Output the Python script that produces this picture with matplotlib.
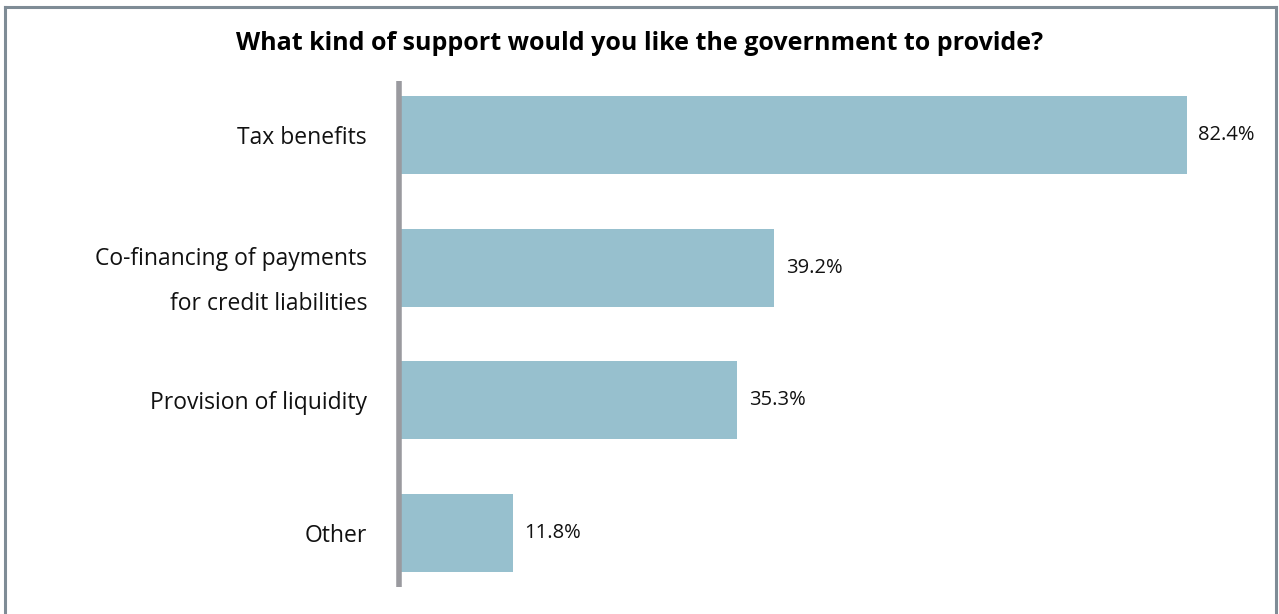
import matplotlib.pyplot as plt

plt.rcParams['font.family'] = ['Open Sans', 'DejaVu Sans']

# data
categories = ['Tax benefits', 'Co-financing of payments\nfor credit liabilities',
              'Provision of liquidity', 'Other']
values = [82.4, 39.2, 35.3, 11.8]
title = 'What kind of support would you like the government to provide?'

W, H = 1279, 614
fig = plt.figure(figsize=(W / 100, H / 100), dpi=100)

# frame around the figure (bottom edge cut off in the original)
fig.add_artist(plt.Line2D([5 / W, 5 / W], [0, 1 - 7 / H], color='#7f8c96', lw=2.2))
fig.add_artist(plt.Line2D([1276 / W, 1276 / W], [0, 1 - 7 / H], color='#7f8c96', lw=2.2))
fig.add_artist(plt.Line2D([5 / W, 1276 / W], [1 - 7 / H, 1 - 7 / H], color='#7f8c96', lw=2.2))

px_per_unit = (1186 - 399) / 82.4
ax_left, ax_right = 399, 1265
ax_top, ax_bot = 81, 587
ax = fig.add_axes([ax_left / W, 1 - ax_bot / H, (ax_right - ax_left) / W, (ax_bot - ax_top) / H])
ax.set_xlim(0, (ax_right - ax_left) / px_per_unit)
ax.set_ylim(3.41, -0.41)

pos = list(range(len(categories)))
ax.barh(pos, values, height=0.586, color='#97c0ce', left=0.1)

for p, v in zip(pos, values):
    ax.text(v + 1.3, p, f'{v}%', va='center', ha='left', fontsize=14.5, color='#111111')

ax.set_yticks(pos)
ax.set_yticklabels(categories, fontsize=16.5, linespacing=2.2, color='#111111')
ax.tick_params(axis='y', length=0, pad=23)
ax.set_xticks([])

for s in ['top', 'right', 'bottom']:
    ax.spines[s].set_visible(False)
ax.spines['left'].set_color('#9a9a9f')
ax.spines['left'].set_linewidth(4)
ax.spines['left'].set_capstyle('butt')

fig.text(0.5, 1 - 44 / H, title, ha='center', va='center', fontsize=18,
         fontweight='bold', color='#000000')

fig.savefig('out.png', dpi=100)
